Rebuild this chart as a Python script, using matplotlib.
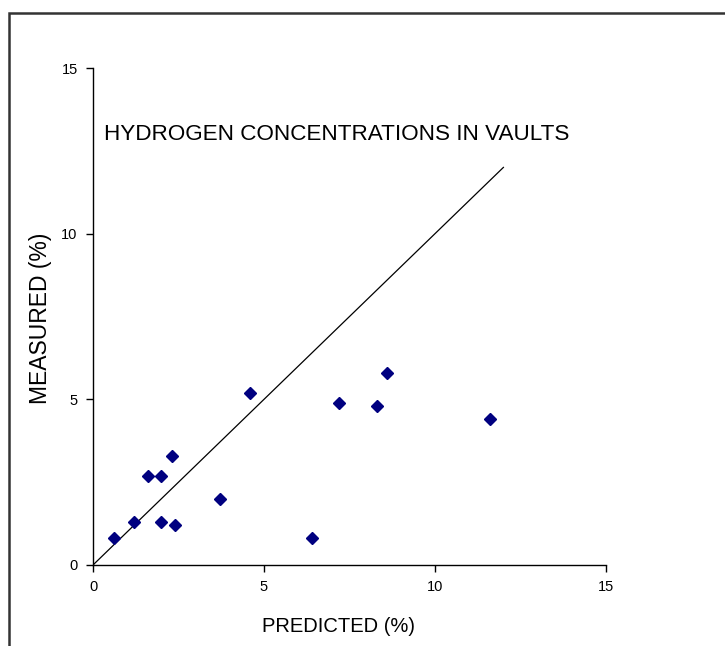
import matplotlib
matplotlib.use("Agg")
import matplotlib.pyplot as plt
from matplotlib.patches import Rectangle

plt.rcParams['font.family'] = ['Liberation Sans', 'DejaVu Sans']

predicted = [0.6, 1.2, 1.6, 2.0, 2.3, 2.0, 2.4, 3.7, 4.6, 6.4, 7.2, 8.3, 8.6, 11.6]
measured = [0.8, 1.3, 2.7, 2.7, 3.3, 1.3, 1.2, 2.0, 5.2, 0.8, 4.9, 4.8, 5.8, 4.4]
line_x = [0, 12]
line_y = [0, 12]
ticks = [0, 5, 10, 15]
title = "HYDROGEN CONCENTRATIONS IN VAULTS"

fig = plt.figure(figsize=(7.25, 6.46), dpi=100)
ax = fig.add_axes([93/725, 81/646, 513/725, 497/646])

ax.plot(line_x, line_y, color='black', lw=0.9)
ax.plot(predicted, measured, linestyle='none', marker='D', ms=6.5,
        color='#000080', markeredgecolor='#000080')

ax.set_xlim(0, 15)
ax.set_ylim(0, 15)
ax.set_xticks(ticks)
ax.set_yticks(ticks)
ax.tick_params(direction='out', length=5, width=1, labelsize=10.5, pad=6)
for s in ['top', 'right']:
    ax.spines[s].set_visible(False)
for s in ['left', 'bottom']:
    ax.spines[s].set_linewidth(1)
    ax.spines[s].set_color('black')

ax.set_xlabel("PREDICTED (%)", fontsize=14.5)
ax.set_ylabel("MEASURED (%)", fontsize=16.5)
ax.xaxis.label.set_va('center')
ax.yaxis.label.set_va('center')
ax.xaxis.set_label_coords(0.4776, -0.1247)
ax.yaxis.set_label_coords(-0.103, 0.497)
ax.text(0.32, 13.0, title, fontsize=16.2, va='center', ha='left')

fig.patches.append(Rectangle((9/725, -0.2), 1.2, (646-13)/646 + 0.2,
                             transform=fig.transFigure, fill=False,
                             edgecolor='#333333', lw=1.8, zorder=10))

fig.savefig("out.png", dpi=100)
